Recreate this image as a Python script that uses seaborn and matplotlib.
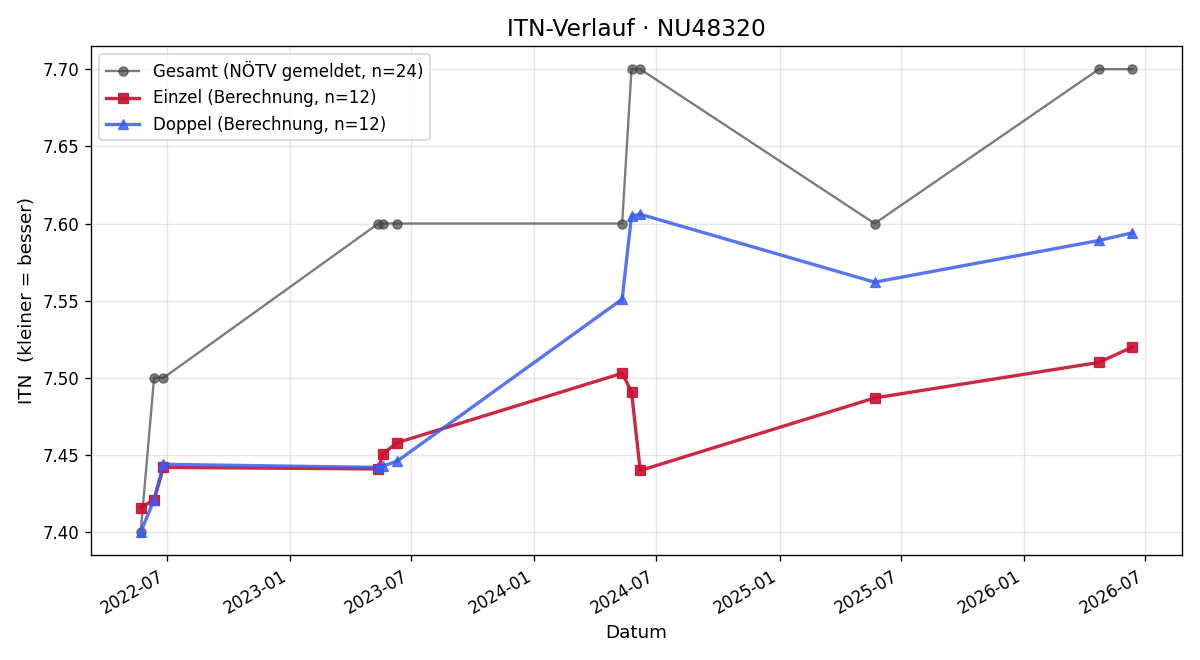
import pandas as pd
import numpy as np
import matplotlib
matplotlib.use("Agg")
import matplotlib.pyplot as plt
import matplotlib.dates as mdates
import seaborn as sns

dates = ["2022-05-23", "2022-06-12", "2022-06-26",
         "2023-05-13", "2023-05-20", "2023-06-10",
         "2024-05-11", "2024-05-25", "2024-06-07",
         "2025-05-23", "2026-04-23", "2026-06-12"]
gesamt = [7.40, 7.50, 7.50, 7.60, 7.60, 7.60, 7.60, 7.70, 7.70, 7.60, 7.70, 7.70]
einzel = [7.416, 7.421, 7.442, 7.441, 7.451, 7.458, 7.503, 7.491, 7.440, 7.487, 7.510, 7.520]
doppel = [7.400, 7.421, 7.444, 7.442, 7.443, 7.446, 7.551, 7.605, 7.606, 7.562, 7.589, 7.594]

df = pd.DataFrame({"Datum": pd.to_datetime(dates),
                   "gesamt": gesamt, "einzel": einzel, "doppel": doppel})

fig, ax = plt.subplots(1, 1, figsize=(10, 5.5), dpi=120)

sns.lineplot(data=df, x="Datum", y="gesamt", ax=ax, color="#444444", alpha=0.7,
             marker="o", markersize=5.5, markeredgecolor="#444444", linewidth=1.4,
             label="Gesamt (NÖTV gemeldet, n=24)")
sns.lineplot(data=df, x="Datum", y="einzel", ax=ax, color="#C8102E", alpha=0.9,
             marker="s", markersize=6.5, markeredgecolor="#C8102E", linewidth=2,
             label="Einzel (Berechnung, n=12)")
sns.lineplot(data=df, x="Datum", y="doppel", ax=ax, color="#3A5CF0", alpha=0.85,
             marker="^", markersize=6.5, markeredgecolor="#3A5CF0", linewidth=2,
             label="Doppel (Berechnung, n=12)")

ax.xaxis.set_major_formatter(mdates.DateFormatter("%Y-%m"))
ax.grid(True, alpha=0.3)
ax.set_title("ITN-Verlauf · NU48320", fontsize=14)
ax.set_xlabel("Datum", fontsize=11)
ax.set_ylabel("ITN  (kleiner = besser)", fontsize=11)
ax.legend(loc="upper left")
fig.autofmt_xdate()

fig.tight_layout()
fig.savefig("out.png")
plt.close(fig)
